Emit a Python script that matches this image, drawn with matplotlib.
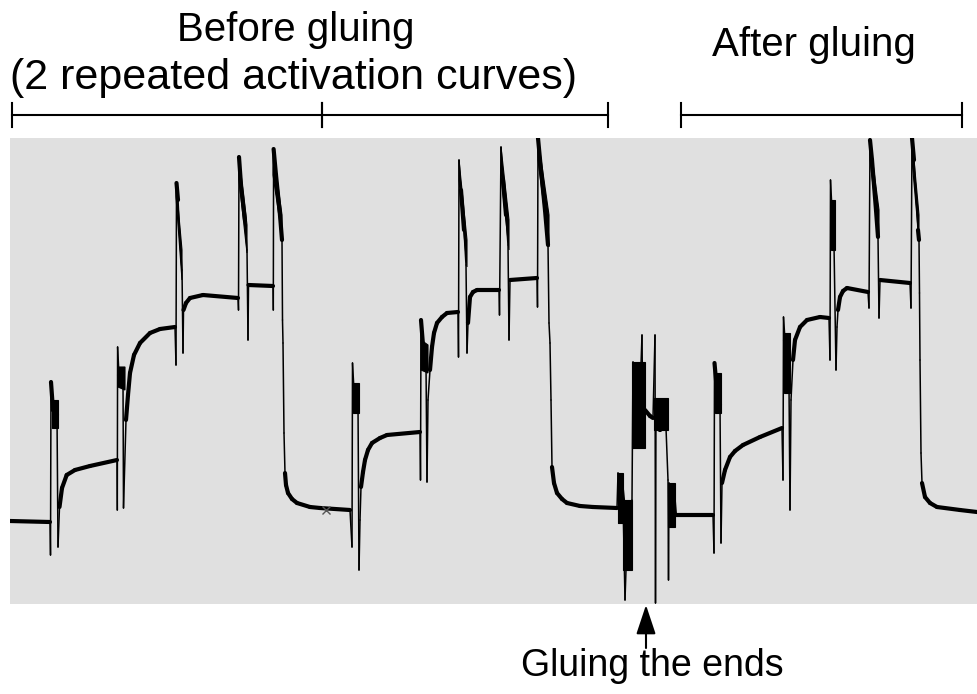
import numpy as np
import matplotlib.pyplot as plt
from matplotlib.collections import LineCollection

plt.rcParams['font.family'] = ['Liberation Sans', 'DejaVu Sans']

t = [0, 40, 40.5, 41, 43, 47, 48, 49.5, 52, 56.7, 65, 80, 107,
     107.3, 107.6, 109, 113, 113.5, 116, 118, 120, 124, 130, 140, 150, 165,
     166, 166.5, 168, 170, 172, 173, 173.5, 176, 180, 193, 228,
     228.5, 229, 231, 235, 237, 238, 238.5, 263,
     263.3, 263.6, 266, 270, 272, 272.5, 273, 274, 275, 276, 278, 282, 287, 300, 310, 340,
     342, 342.5, 344, 348, 349, 350, 351, 353, 355, 358, 362, 370, 377, 410,
     410.5, 411, 413, 416, 417, 418, 420, 422, 424, 427, 432, 437, 448,
     448.5, 449, 451, 454, 456, 457, 458, 460, 463, 467, 489,
     489.5, 491, 493, 496, 498, 499, 500, 527,
     527.5, 528, 531, 535, 538, 539, 540, 541, 542, 544, 547, 552, 557, 570, 583, 607,
     608, 609, 610, 611, 612, 613, 615, 616, 618, 620, 622, 623, 625, 627, 629, 631, 632,
     633, 635, 640, 643, 645, 645.5, 646, 650, 653, 656, 658, 658.5, 659, 661, 663, 665, 703,
     704, 704.5, 706, 710, 711, 712, 715, 720, 725, 733, 750, 772,
     773, 773.5, 775, 779, 780, 781, 783, 785, 790, 797, 810, 819,
     820, 820.5, 822, 824, 826, 827, 828, 830, 833, 837, 858,
     859, 860, 862, 866, 868, 869, 870, 900,
     901, 902, 904, 908, 909, 909.5, 910, 911, 912, 915, 920, 927, 950, 967]
v = [83, 82, 49, 222, 194, 189, 57, 97, 116, 129, 134, 138, 144,
     94, 257, 229, 224, 96, 184, 209, 231, 249, 261, 271, 275, 277,
     239, 421, 404, 364, 334, 251, 294, 301, 306, 309, 306,
     294, 447, 419, 384, 354, 264, 319, 318,
     294, 455, 429, 389, 364, 284, 261, 171, 131, 119, 111, 105, 101, 97, 96, 94,
     57, 241, 214, 199, 34, 84, 117, 132, 144, 154, 161, 166, 169, 172,
     124, 284, 259, 239, 122, 204, 234, 257, 271, 281, 287, 291, 292,
     247, 444, 414, 374, 339, 251, 281, 307, 312, 314, 314,
     289, 457, 424, 389, 359, 264, 324, 326,
     297, 466, 434, 394, 359, 281, 261, 204, 137, 121, 111, 105, 101, 98, 97, 96,
     131, 81, 124, 89, 114, 104, 4, 34, 94, 44, 104, 242, 164, 234, 159, 239, 269,
     156, 194, 188, 186, 269, 1, 204, 174, 201, 176, 124, 24, 121, 81, 114, 89, 89,
     51, 241, 224, 199, 61, 121, 134, 147, 153, 159, 167, 176,
     124, 287, 264, 219, 94, 204, 244, 264, 277, 284, 287, 286,
     244, 424, 394, 359, 234, 277, 294, 307, 313, 316, 312,
     296, 464, 444, 394, 367, 286, 324, 321,
     296, 466, 444, 374, 364, 311, 244, 151, 121, 107, 101, 97, 94, 92]

# noisy bursts right after each stimulus: start, end, upper edge, lower edge
burst_t0 = [42, 108, 166, 229, 263, 343, 411, 449, 491, 528,
            608, 613, 622, 644, 658, 705, 774, 821, 860, 902]
burst_t1 = [48, 115, 172, 237, 272, 349, 418, 457, 499, 539,
            613, 622, 635, 658, 665, 711, 780, 825, 869, 909]
burst_top0 = [204, 237, 421, 447, 455, 221, 264, 444, 457, 466,
              131, 104, 242, 206, 121, 231, 271, 404, 464, 466]
burst_top1 = [204, 237, 354, 379, 389, 221, 259, 364, 384, 389,
              131, 104, 242, 206, 121, 231, 271, 404, 394, 389]
burst_bot0 = [176, 217, 407, 424, 429, 191, 234, 424, 429, 444,
              81, 34, 156, 174, 77, 191, 211, 354, 444, 444]
burst_bot1 = [176, 214, 324, 351, 367, 191, 231, 337, 354, 357,
              81, 34, 156, 174, 77, 191, 211, 354, 367, 364]

brackets = [(1.7, 311.7), (311.7, 598), (671, 952)]

fig = plt.figure(figsize=(9.77, 6.94), dpi=100)
ax = fig.add_axes([10 / 977, 90 / 694, 967 / 977, 466 / 694])
ax.set_facecolor('#e0e0e0')
for s in ax.spines.values():
    s.set_visible(False)
ax.set_xticks([])
ax.set_yticks([])
ax.set_xlim(0, 967)
ax.set_ylim(0, 466)

# trace: thick on slow parts (noise band), thin on the fast jumps
tt = np.array(t, dtype=float)
vv = np.array(v, dtype=float)
segs = np.stack([np.column_stack([tt[:-1], vv[:-1]]),
                 np.column_stack([tt[1:], vv[1:]])], axis=1)
slope = np.abs(np.diff(vv)) / np.maximum(np.diff(tt), 1e-6)
widths = np.where(slope < 15, 3.0, 1.1)
lc = LineCollection(segs, linewidths=widths, colors='black', capstyle='round',
                    joinstyle='round')
ax.add_collection(lc)

for i in range(len(burst_t0)):
    ax.fill([burst_t0[i], burst_t1[i], burst_t1[i], burst_t0[i]],
            [burst_top0[i], burst_top1[i], burst_bot1[i], burst_bot0[i]],
            color='black', lw=0.8)

ax.plot(316, 94, marker='x', color='#555555', ms=6, mew=1)

# brackets above the plot
for a, b in brackets:
    ax.plot([a, b], [489, 489], color='black', lw=1.5, clip_on=False)
    for x in (a, b):
        ax.plot([x, x], [477, 501], color='black', lw=1.5, clip_on=False)

ax.text(286, 574, 'Before gluing', ha='center', va='center', fontsize=29, clip_on=False)
ax.text(283, 526, '(2 repeated activation curves)', ha='center', va='center',
        fontsize=31, clip_on=False)
ax.text(804, 559, 'After gluing', ha='center', va='center', fontsize=29, clip_on=False)
ax.text(642, -62, 'Gluing the ends', ha='center', va='center', fontsize=27, clip_on=False)
ax.annotate('', xy=(636, -1), xytext=(636, -44), annotation_clip=False,
            arrowprops=dict(arrowstyle='-|>,head_length=0.9,head_width=0.3',
                            color='black', lw=1.5, mutation_scale=20,
                            shrinkA=0, shrinkB=0))

fig.savefig('out.png', dpi=100)
